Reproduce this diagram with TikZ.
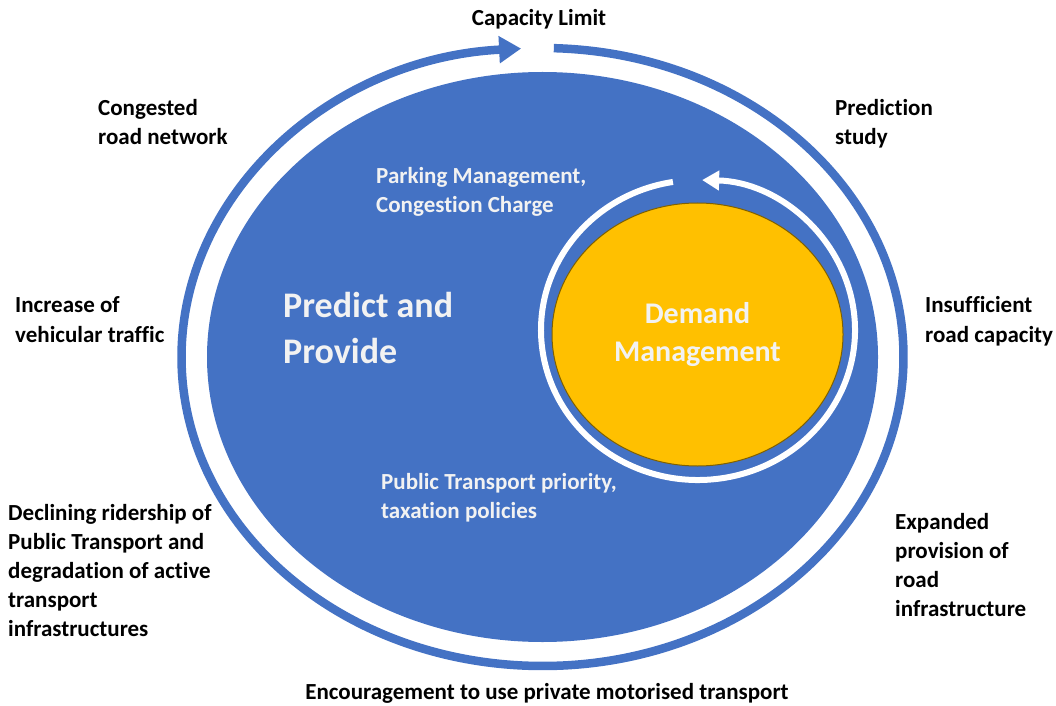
\documentclass[tikz,border=0pt]{standalone}
\usepackage{fontspec}
\setmainfont{Carlito}[Ligatures={NoCommon}]
\usetikzlibrary{positioning, shapes.geometric, arrows.meta}
\definecolor{ppblue}{HTML}{4472C4}
\definecolor{dmyellow}{HTML}{FFC000}
\definecolor{dmedge}{HTML}{7F6000}
\definecolor{paletext}{HTML}{F2F2F2}

\begin{document}
\begin{tikzpicture}[
        x=1pt, y=1pt,
        lbl/.style={
            font=\bfseries\fontsize{23}{29}\selectfont,
            align=left, inner sep=0pt, anchor=base west % base = last line
        },
        wlbl/.style={lbl, text=paletext},
        ring/.style={draw=ppblue, line width=8.5pt},
        wring/.style={draw=white, line width=6pt}
      ]
        \useasboundingbox (0,0) rectangle (1056,705);
        % big ellipse and the yellow one inside it
        \node[ellipse, fill=ppblue, inner sep=0pt,
              minimum width=671pt, minimum height=570pt] (pp) at (542.5,348) {};
        \node[ellipse, fill=dmyellow, draw=dmedge, line width=1pt, inner sep=0pt,
              minimum width=291pt, minimum height=263pt, text=paletext, align=center,
              font=\bfseries\fontsize{30}{38}\selectfont] (dm) at (697.5,370.5)
              {Demand\\Management};
        \coordinate (loop) at (698,375);
        % the two cycles
        \draw[ring, -{Triangle[length=22pt, width=26pt]}]
          ([shift={(88.2:361pt and 309pt)}]pp.center)
          arc[start angle=88.2, end angle=-266.6, x radius=361pt, y radius=309pt];
        \draw[wring, -{Triangle[length=17pt, width=19pt]}]
          ([shift={(99.2:157pt and 150pt)}]loop)
          arc[start angle=99.2, end angle=448.5, x radius=157pt, y radius=150pt];
        % labels round the outside
        \node[lbl, anchor=base] (cap) at (539,679) {Capacity Limit};
        \node[lbl] (cong) at (98,560) {Congested\\road network};
        \node[lbl] (pred) at (835,560) {Prediction\\study};
        \node[lbl] (incr) at (15,363) {Increase of\\vehicular traffic};
        \node[lbl] (insuf) at (925,363) {Insufficient\\road capacity};
        \node[lbl] (decl) at (8,69) {Declining ridership of\\Public Transport and\\degradation of active\\transport\\infrastructures};
        \node[lbl] (expa) at (895,89) {Expanded\\provision of\\road\\infrastructure};
        \node[lbl, anchor=base] (enc) at (547,6) {Encouragement to use private motorised transport};
        % labels inside
        \node[wlbl, font=\bfseries\fontsize{36}{46}\selectfont] (ppl) at (283,342) {Predict and\\Provide};
        \node[wlbl] (park) at (376,492) {Parking Management,\\Congestion Charge};
        \node[wlbl] (ptp) at (381,187) {Public Transport priority,\\taxation policies};
      \end{tikzpicture}
\end{document}
